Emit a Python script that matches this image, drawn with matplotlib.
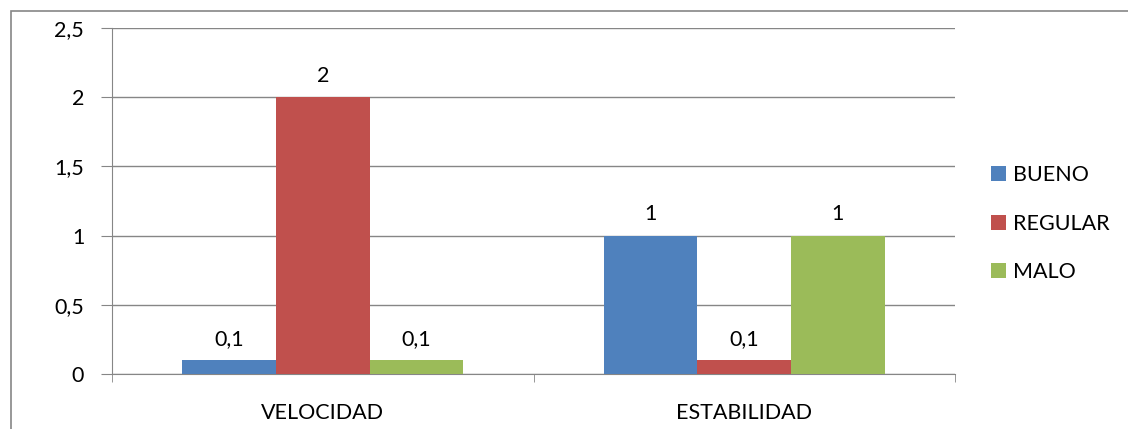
import matplotlib
matplotlib.use("Agg")
import matplotlib.pyplot as plt
from matplotlib.patches import Rectangle
from matplotlib.ticker import FuncFormatter

# Data
categories = ['VELOCIDAD', 'ESTABILIDAD']
series_names = ['BUENO', 'REGULAR', 'MALO']
bueno = [0.1, 1]
regular = [2, 0.1]
malo = [0.1, 1]
colors = ['#4F81BD', '#C0504D', '#9BBB59']

plt.rcParams['font.family'] = ['Lato', 'DejaVu Sans']
grey = '#868686'
fs = 15.5

fig = plt.figure(figsize=(11.28, 4.29), dpi=100)
ax = fig.add_axes([112 / 1128, 55 / 429, 843 / 1128, 346 / 429])

# Outer chart border (extends past right/bottom edges like the source)
fig.patches.append(Rectangle((11 / 1128, -0.1), 1.2, 1 - 11 / 429 + 0.1,
                             transform=fig.transFigure, fill=False,
                             edgecolor=grey, linewidth=1.2, zorder=0))

width = 0.222
x = range(len(categories))
for i, (name, vals) in enumerate(zip(series_names, [bueno, regular, malo])):
    pos = [xi + (i - 1) * width for xi in x]
    bars = ax.bar(pos, vals, width=width, color=colors[i], label=name, zorder=3)
    for b, v in zip(bars, vals):
        txt = ('%g' % v).replace('.', ',')
        ax.annotate(txt, (b.get_x() + b.get_width() / 2, v),
                    xytext=(0, 8), textcoords='offset points',
                    ha='center', va='bottom', fontsize=fs)

ax.set_xlim(-0.5, 1.5)
ax.set_ylim(0, 2.5)
ax.set_yticks([0, 0.5, 1, 1.5, 2, 2.5])
ax.yaxis.set_major_formatter(FuncFormatter(lambda v, p: ('%g' % v).replace('.', ',')))
ax.yaxis.grid(True, color=grey, linewidth=1)
ax.set_axisbelow(True)

ax.set_xticks(list(x))
ax.set_xticklabels(categories)
ax.set_xticks([-0.5, 0.5, 1.5], minor=True)
ax.tick_params(axis='x', which='major', length=0, pad=21, labelsize=fs)
ax.tick_params(axis='x', which='minor', length=6, color=grey, direction='out')
ax.tick_params(axis='y', length=8, color=grey, pad=12, labelsize=fs)

for side in ['top', 'right']:
    ax.spines[side].set_visible(False)
ax.spines['left'].set_color(grey)
ax.spines['bottom'].set_color(grey)

leg = ax.legend(loc='center left', bbox_to_anchor=(1.02, 0.434), frameon=False,
                fontsize=fs, handlelength=0.7, handleheight=0.7,
                handletextpad=0.3, labelspacing=1.32)

fig.savefig('out.png', dpi=100)
